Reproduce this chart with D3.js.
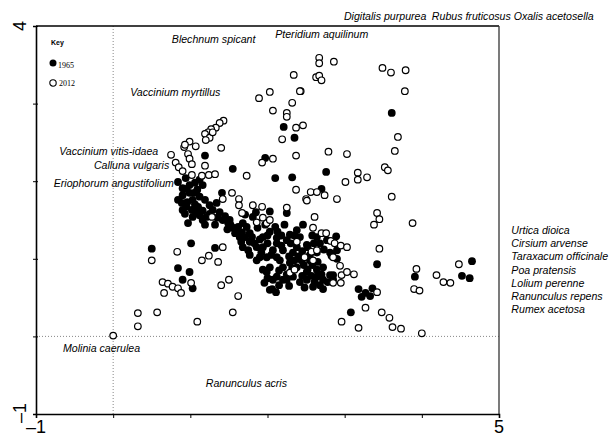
<!DOCTYPE html>
<head>
<meta charset="utf-8">
<title>Ordination plot</title>
<script src="https://cdn.jsdelivr.net/npm/d3@7"></script>
<style>
body { margin: 0; background: #fff; }
.lab { font: italic 10.6px "Liberation Sans", Arial, sans-serif; fill: #000; }
.end { font: 18px "Liberation Sans", Arial, sans-serif; fill: #000; }
</style>
</head>
<body>
<script>
// sample scores (axis 1, axis 2)
var pts1965 = [
  [3.61,2.88],[2.76,2.12],[2.70,1.90],[2.21,2.70],[2.35,2.56],[1.19,2.33],[1.97,2.30],[1.55,2.16],
  [2.10,2.04],[2.32,2.05],[0.50,1.13],[1.01,1.20],[0.84,0.88],[0.99,0.83],[0.90,0.73],[1.03,0.62],
  [1.32,1.14],[2.72,0.61],[2.85,0.73],[2.89,1.29],[2.83,1.04],[2.85,0.79],[3.42,0.93],[3.91,0.77],
  [3.18,0.61],[3.22,0.51],[3.27,0.56],[3.33,0.52],[3.36,0.62],[3.08,0.31],[4.52,0.78],[4.62,0.75],
  [4.65,0.97],
  [0.90,1.91],[0.99,1.95],[1.06,1.98],[1.12,2.02],[1.16,1.95],[0.90,1.82],[0.99,1.85],[1.09,1.89],
  [0.89,1.72],[0.96,1.73],[1.03,1.76],[1.12,1.80],[0.90,1.63],[1.02,1.63],[1.10,1.67],[0.97,1.46],
  [1.03,1.54],[1.12,1.56],[1.21,1.54],[1.29,1.63],[1.38,1.60],[1.42,1.50],[1.49,1.46],[1.55,1.40],
  [1.41,1.85],[1.51,1.50],[1.62,1.41],[1.68,1.46],[1.73,1.41],[1.58,1.33],[1.64,1.28],[1.71,1.28],
  [1.77,1.33],[1.81,1.54],[1.85,1.60],[1.77,1.22],[1.75,1.11],[1.86,1.15],[1.94,1.28],[2.03,1.35],
  [2.10,1.41],[2.13,1.35],[2.12,1.27],[2.00,1.20],[2.07,1.11],[1.90,1.02],[1.99,1.02],[2.12,1.02],
  [2.20,1.11],[2.25,1.24],[2.29,1.31],[2.25,1.59],[2.46,1.44],[2.38,1.37],[2.42,1.28],[2.51,1.18],
  [2.33,1.08],[2.44,0.98],[2.20,0.89],[2.29,0.95],[2.38,0.89],[2.03,0.89],[1.94,0.86],[2.12,0.77],
  [2.20,0.73],[2.33,0.77],[2.42,0.70],[2.52,0.86],[2.64,0.86],[2.72,0.89],[2.64,0.77],[2.51,0.73],
  [2.59,0.64],[2.68,1.20],[2.77,1.24],[2.64,1.28],[2.90,1.11],[2.81,1.08],[2.03,0.60],[2.11,0.57],
  [1.96,0.69],[1.68,1.15],[1.77,1.05],[1.86,0.98],[1.99,0.83],[2.07,0.73],[2.06,0.61],[2.25,0.73],
  [2.32,0.88],[2.51,0.83],[2.61,0.70],[2.72,0.73],[2.81,0.79],[2.65,0.96],[2.55,0.98],[2.35,0.98],
  [2.16,0.98],[1.94,1.15],[2.12,1.20],[2.38,1.15],[2.52,1.15],[2.64,1.08],[2.83,1.05],
  [0.84,1.99],[0.94,2.04],[0.84,1.76],[1.19,1.76],[1.25,1.69],[1.34,1.72],[1.19,1.44],[1.32,1.44],
  [1.71,1.57],[1.87,1.40],[1.97,1.44],[2.22,1.44],[2.03,1.61],
  [0.95,1.90],[1.05,1.85],[0.95,1.67],[1.06,1.70],[0.93,1.58],[1.08,1.60],[1.16,1.62],[1.16,1.50],
  [1.25,1.58],[1.35,1.53],[1.45,1.55],[1.48,1.38],[1.52,1.44],[1.60,1.36],[1.67,1.34],[1.66,1.22],
  [1.80,1.28],[1.83,1.20],[1.90,1.25],[1.92,1.08],[2.05,1.05],[2.00,1.30],[2.18,1.30],[2.18,1.17],
  [2.30,1.20],[2.35,1.30],[2.45,1.10],[2.40,1.03],[2.28,1.03],[2.55,1.05],[2.58,0.92],[2.47,0.92],
  [2.15,0.85],[2.25,0.80],[2.45,0.78],[2.57,0.78],[2.70,0.80],[2.78,0.70],[2.68,0.66],[2.48,0.63],
  [2.15,0.66],[2.00,0.75],[2.28,0.65],[2.60,1.20],[2.58,1.30],[2.73,1.12],[2.90,1.00]
];

var pts2012 = [
  [2.67,3.59],[2.67,3.52],[2.86,3.54],[2.63,3.34],[2.67,3.36],[2.70,3.30],[2.43,3.16],[3.49,3.46],
  [3.60,3.40],[3.79,3.43],[3.78,3.16],[2.46,2.72],[3.69,2.57],[2.79,2.38],[3.03,2.35],[3.65,2.39],
  [3.52,2.18],[3.56,2.14],[3.17,2.11],[3.29,2.05],[3.17,2.02],[3.01,1.99],[2.56,1.86],[2.64,1.86],
  [2.74,1.82],[2.90,1.77],[3.61,1.80],[2.50,1.77],
  [2.34,3.37],[2.03,3.15],[2.42,3.16],[1.89,3.07],[2.32,3.01],[2.07,2.91],[2.25,2.88],[2.25,2.83],
  [2.37,2.69],[2.19,2.54],[2.37,2.33],[2.07,2.29],[1.93,2.24],
  [1.43,2.78],[1.38,2.75],[1.33,2.69],[1.27,2.67],[1.23,2.63],[1.19,2.61],[1.25,2.56],[1.20,2.53],
  [0.99,2.51],[0.92,2.44],[1.07,2.45],[1.40,2.43],[0.97,2.35],[0.75,2.34],[0.99,2.29],[0.81,2.24],
  [0.85,2.18],[1.02,2.22],[1.19,2.20],[0.93,2.47],[0.90,2.13],[1.02,2.08],[1.15,2.07],[1.24,2.08],
  [1.32,2.09],[1.54,1.85],[1.63,1.77],[1.67,1.59],[1.29,2.63],[1.73,2.07],[2.37,1.89],[2.51,1.75],
  [1.42,1.77],[1.63,1.69],[1.28,1.54],[1.81,1.69],[1.93,1.67],[1.86,1.47],[1.94,1.53],[1.99,1.46],
  [2.03,1.50],[2.25,1.66],[2.61,1.54],[2.59,1.40],[2.70,1.33],[2.76,1.33],[2.82,1.23],[2.87,1.20],
  [2.95,1.17],[3.03,1.15],[2.38,1.22],[2.57,1.09],[2.64,1.11],[2.48,1.02],[2.59,0.98],[2.85,1.02],
  [2.94,0.91],[2.96,0.79],[2.85,0.69],
  [0.83,1.09],[0.50,0.98],[1.15,0.98],[1.24,1.04],[1.36,0.96],[1.42,1.15],[0.64,0.70],[0.71,0.68],
  [0.77,0.64],[0.84,0.62],[0.66,0.56],[0.88,0.56],[1.01,0.69],[1.40,0.66],[1.50,0.73],[1.62,0.52],
  [2.29,0.82],[2.35,0.86],[0.32,0.30],[0.32,0.13],[0.57,0.31],[1.09,0.19],[1.55,0.31],[0.00,0.01],
  [3.42,1.59],[3.45,1.51],[3.38,1.44],[3.88,1.46],[3.45,1.13],[3.03,0.83],[3.12,0.80],[2.95,0.69],
  [3.93,0.87],[3.90,0.61],[3.97,0.59],[4.19,0.79],[4.28,0.70],[4.37,0.69],[4.48,0.93],[3.42,0.57],
  [3.27,0.37],[2.96,0.19],[3.18,0.11],[3.48,0.31],[3.58,0.24],[3.62,0.12],[3.73,0.10],[4.00,0.04]
];

// species labels and where they sit in ordination space
var spNames = ["Digitalis purpurea","Rubus fruticosus","Oxalis acetosella","Blechnum spicant",
  "Pteridium aquilinum","Vaccinium myrtillus","Vaccinium vitis-idaea","Calluna vulgaris",
  "Eriophorum angustifolium","Urtica dioica","Cirsium arvense","Taraxacum officinale",
  "Poa pratensis","Lolium perenne","Ranunculus repens","Rumex acetosa","Molinia caerulea",
  "Ranunculus acris"];
var spX = [2.99,4.13,5.19,0.76,2.10,0.22,-0.70,-0.25,-0.77,5.16,5.16,5.16,5.16,5.16,5.16,5.16,-0.65,1.20];
var spY = [4.08,4.08,4.08,3.78,3.85,3.10,2.34,2.16,1.93,1.32,1.15,0.98,0.81,0.64,0.47,0.30,-0.20,-0.65];

var xDomain = [-1, 5];
var yDomain = [-1, 4];
var xTicks = [-1, 0, 1, 2, 3, 4, 5];
var yTicks = [-1, 0, 1, 2, 3, 4];

var width = 609, height = 436;
var mLeft = 36, mRight = 499, mTop = 26, mBottom = 414;

var svg = d3.select("body").append("svg")
    .attr("width", width)
    .attr("height", height);

var x = d3.scaleLinear().domain(xDomain).range([mLeft, mRight]);
var y = d3.scaleLinear().domain(yDomain).range([mBottom, mTop]);

// zero lines
svg.append("line")
    .attr("x1", x(0)).attr("x2", x(0))
    .attr("y1", mTop).attr("y2", mBottom)
    .attr("stroke", "#888").attr("stroke-width", 1)
    .attr("stroke-dasharray", "1,2");
svg.append("line")
    .attr("x1", mLeft).attr("x2", mRight)
    .attr("y1", y(0)).attr("y2", y(0))
    .attr("stroke", "#888").attr("stroke-width", 1)
    .attr("stroke-dasharray", "1,2");

// box top and right
svg.append("line")
    .attr("x1", mLeft).attr("x2", mRight).attr("y1", mTop).attr("y2", mTop)
    .attr("stroke", "#000").attr("stroke-width", 1.5);
svg.append("line")
    .attr("x1", mRight).attr("x2", mRight).attr("y1", mTop).attr("y2", mBottom)
    .attr("stroke", "#333").attr("stroke-width", 1.3);

// axes, labels only at the ends
var xAxis = d3.axisBottom(x).tickValues(xTicks).tickSize(4).tickFormat("");
var yAxis = d3.axisLeft(y).tickValues(yTicks).tickSize(3).tickFormat("");

var gx = svg.append("g").attr("transform", "translate(0," + mBottom + ")").call(xAxis);
var gy = svg.append("g").attr("transform", "translate(" + mLeft + ",0)").call(yAxis);
[gx, gy].forEach(function(g) {
    g.select(".domain").attr("stroke", "#000").attr("stroke-width", 1.6);
    g.selectAll(".tick line").attr("stroke", "#000").attr("stroke-width", 1);
});
gy.selectAll(".tick line").attr("x2", -3).attr("x1", 2);

svg.append("text").attr("class", "end")
    .attr("x", x(xDomain[0])).attr("y", mBottom + 19)
    .attr("text-anchor", "middle").text("\u20131");
svg.append("text").attr("class", "end")
    .attr("x", x(xDomain[1])).attr("y", mBottom + 19)
    .attr("text-anchor", "middle").text("5");
svg.append("text").attr("class", "end")
    .attr("transform", "translate(" + (mLeft - 10) + "," + y(yDomain[1]) + ") rotate(-90)")
    .attr("text-anchor", "middle").text("4");
svg.append("text").attr("class", "end")
    .attr("transform", "translate(" + (mLeft - 10) + "," + (y(yDomain[0]) + 9) + ") rotate(-90)")
    .attr("text-anchor", "start").text("\u20131");

// points: 1965 filled, 2012 open on top
svg.append("g").selectAll("circle")
    .data(pts1965).enter().append("circle")
    .attr("cx", function(d) { return x(d[0]); })
    .attr("cy", function(d) { return y(d[1]); })
    .attr("r", 3.9)
    .style("fill", "#000");

svg.append("g").selectAll("circle")
    .data(pts2012).enter().append("circle")
    .attr("cx", function(d) { return x(d[0]); })
    .attr("cy", function(d) { return y(d[1]); })
    .attr("r", 3.3)
    .style("fill", "#fff")
    .style("stroke", "#000")
    .style("stroke-width", 1.2);

// species names
svg.append("g").selectAll("text")
    .data(spNames).enter().append("text")
    .attr("class", "lab")
    .attr("x", function(d, i) { return x(spX[i]); })
    .attr("y", function(d, i) { return y(spY[i]); })
    .text(function(d) { return d; });

// key
var key = svg.append("g").attr("transform", "translate(50,0)");
key.append("text").attr("x", 1).attr("y", 45)
    .style("font", "bold 7px 'Liberation Sans', Arial, sans-serif").text("Key");
key.append("circle").attr("cx", 3).attr("cy", 63).attr("r", 3.5).style("fill", "#000");
key.append("text").attr("x", 8).attr("y", 68)
    .style("font", "8px 'Liberation Serif', serif").style("fill", "#000").text("1965");
key.append("circle").attr("cx", 3).attr("cy", 83).attr("r", 3.2)
    .style("fill", "#fff").style("stroke", "#000").style("stroke-width", 1.1);
key.append("text").attr("x", 9).attr("y", 86)
    .style("font", "8px 'Liberation Serif', serif").style("fill", "#000").text("2012");
</script>
</body>
